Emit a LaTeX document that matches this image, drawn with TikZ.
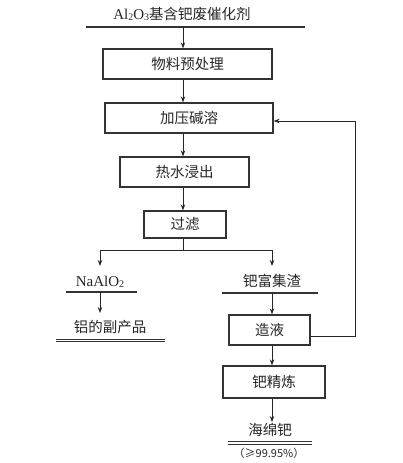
\documentclass[tikz,border=0pt]{standalone}
\usepackage{fontspec}
\setmainfont{Liberation Serif}
\newfontfamily\cjk{Noto Sans CJK SC}
\usetikzlibrary{arrows.meta}
\tikzset{
  stepbox/.style={draw=black!80, line width=1.3pt, inner sep=0pt, font=\cjk\fontsize{14.5}{16}\selectfont, text=black!85},
  lbl/.style={inner sep=0pt, font=\cjk\fontsize{14.5}{16}\selectfont, text=black!85},
  arr/.style={draw=black!85, line width=0.9pt, -{Stealth[length=6pt,width=4.5pt]}},
  ln/.style={draw=black!85, line width=0.9pt},
  uline/.style={draw=black!80, line width=1.2pt},
  dline/.style={draw=black!80, line width=0.8pt}
}
\begin{document}
\begin{tikzpicture}[x=1pt,y=-1pt]
\useasboundingbox (0,0) rectangle (403,463);
\coordinate (axis) at (183,0);
\coordinate (raxis) at (272,0);
\coordinate (fbx) at (355,0);

% title
\node[lbl] (t0) at (182,14) {{\rmfamily\fontsize{15}{16}\selectfont Al{\fontsize{10}{10}\selectfont\raisebox{-1pt}{2}}O{\fontsize{10}{10}\selectfont\raisebox{-1pt}{3}}}基含钯废催化剂};
\coordinate (t0l) at (86,27);
\coordinate (t0r) at (305,27);
\draw[uline] (t0l) -- (t0r);
\coordinate (t0a) at (183,27);

% boxes
\node[stepbox, minimum width=169pt, minimum height=30pt] (p1) at (187.5,64) {物料预处理};
\node[stepbox, minimum width=168pt, minimum height=30pt] (p2) at (189,118) {加压碱溶};
\node[stepbox, minimum width=129pt, minimum height=30pt] (p3) at (184.5,172) {热水浸出};
\node[stepbox, minimum width=82pt, minimum height=27pt] (p4) at (185,224.5) {过滤};
\node[stepbox, minimum width=81pt, minimum height=30pt] (p5) at (269.5,330) {造液};
\node[stepbox, minimum width=102pt, minimum height=32pt] (p6) at (274,382) {钯精炼};

\draw[arr] (t0a) -- (p1.north -| axis);
\draw[arr] (p1.south -| axis) -- (p2.north -| axis);
\draw[arr] (p2.south -| axis) -- (p3.north -| axis);
\draw[arr] (p3.south -| axis) -- (p4.north -| axis);

% branch
\coordinate (bl) at (100,250);
\coordinate (br) at (272,250);
\draw[ln] (p4.south -| axis) -- (bl -| axis);
\draw[ln] (bl) -- (br);
\coordinate (naT) at (100,266);
\coordinate (pdT) at (272,266);
\draw[arr] (bl) -- (naT);
\draw[arr] (br) -- (pdT);

% left products
\node[inner sep=0pt, font=\fontsize{15}{16}\selectfont, text=black!85] (na) at (100,282) {NaAlO{\fontsize{10}{10}\selectfont\raisebox{-1pt}{2}}};
\coordinate (nal) at (66,292);
\coordinate (nar) at (137,292);
\draw[uline] (nal) -- (nar);
\coordinate (naB) at (100,292);
\node[lbl] (al) at (110,327) {铝的副产品};
\coordinate (alT) at (100,313);
\draw[arr] (naB) -- (alT);
\draw[dline] (56,339.2) -- (165,339.2);
\draw[dline] (56,341.8) -- (165,341.8);

% right products
\node[lbl] (pd) at (272,281) {钯富集渣};
\coordinate (pdl) at (222,293);
\coordinate (pdr) at (318,293);
\draw[uline] (pdl) -- (pdr);
\coordinate (pdB) at (272,293);
\draw[arr] (pdB) -- (p5.north -| raxis);
\draw[arr] (p5.south -| raxis) -- (p6.north -| raxis);

\coordinate (hmT) at (272,422);
\draw[arr] (p6.south -| raxis) -- (hmT);
\node[lbl] (hm) at (270,430) {海绵钯};
\draw[dline] (228,441.8) -- (312,441.8);
\draw[dline] (228,444.4) -- (312,444.4);
\node[lbl, font=\cjk\fontsize{11}{12}\selectfont] (pur) at (269,453) {（≥99.95\%）};

% feedback loop
\draw[arr] ([yshift=-6pt]p5.east) -- ([yshift=-6pt]p5.east -| fbx) -- ([yshift=-3pt]p2.east -| fbx) -- ([yshift=-3pt]p2.east);
\end{tikzpicture}
\end{document}
